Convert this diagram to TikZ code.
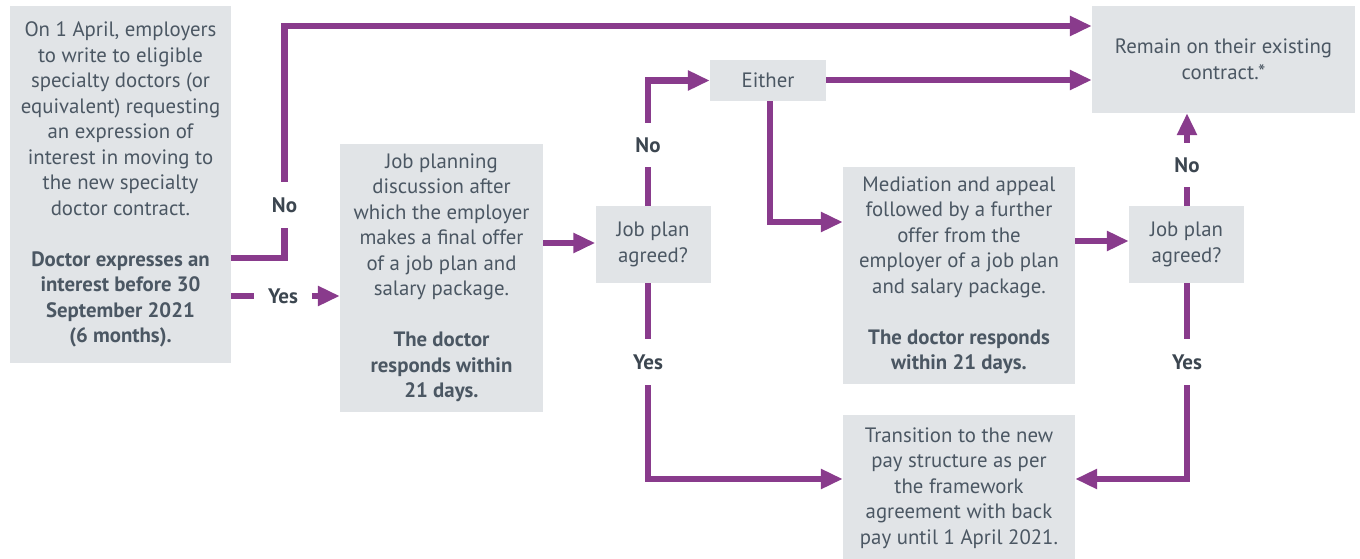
\documentclass[tikz,border=0pt]{standalone}
\usepackage{fontspec}
\setmainfont{PT Sans}
\usetikzlibrary{arrows.meta}
\definecolor{pur}{HTML}{893B8C}
\definecolor{boxg}{HTML}{E1E4E7}
\definecolor{txt}{HTML}{4B5763}
\definecolor{txtd}{HTML}{3C4650}
\begin{document}
\begin{tikzpicture}[x=1pt,y=-1pt,
  box/.style={fill=boxg, inner sep=0pt, align=center, text=txt,
    font=\fontsize{20.8}{25.5}\selectfont},
  lbl/.style={inner sep=0pt, text=txtd, font=\fontsize{21}{24}\selectfont\bfseries,
    minimum width=40pt, minimum height=44pt},
  flow/.style={draw=pur, line width=6.5pt},
  arr/.style={flow, -{Triangle[length=22pt,width=19pt]}}]
\useasboundingbox (0,0) rectangle (1360,559);
% boxes
\node[box, minimum width=221pt, minimum height=357pt] (left) at (120.5,184.5)
  {On 1 April, employers\\ to write to eligible\\ specialty doctors (or\\ equivalent) requesting\\ an expression of\\ interest in moving to\\ the new specialty\\ doctor contract.\\[25.5pt]
  \bfseries Doctor expresses an\\ \bfseries interest before 30\\ \bfseries September 2021\\ \bfseries (6 months).};
\node[box, minimum width=203pt, minimum height=268pt] (plan) at (441.5,278)
  {Job planning\\ discussion after\\ which the employer\\ makes a final offer\\ of a job plan and\\ salary package.\\[25.5pt]
  \bfseries The doctor\\ \bfseries responds within\\ \bfseries 21 days.};
\node[box, minimum width=115pt, minimum height=77pt] (jpa1) at (653,244.5) {Job plan\\ agreed?};
\node[box, minimum width=116pt, minimum height=41pt] (either) at (768,80.5) {Either};
\node[box, minimum width=263pt, minimum height=107pt] (remain) at (1223.5,59.5)
  {Remain on their existing\\ contract.*};
\node[box, minimum width=232pt, minimum height=217pt] (med) at (959,275.5)
  {Mediation and appeal\\ followed by a further\\ offer from the\\ employer of a job plan\\ and salary package.\\[25.5pt]
  \bfseries The doctor responds\\ \bfseries within 21 days.};
\node[box, minimum width=115pt, minimum height=77pt] (jpa2) at (1186.5,244.5) {Job plan\\ agreed?};
\node[box, minimum width=232pt, minimum height=146pt] (trans) at (959,488)
  {Transition to the new\\ pay structure as per\\ the framework\\ agreement with back\\ pay until 1 April 2021.};
% labels
\node[lbl, minimum height=46pt] (no1) at (284.5,205) {No};
\node[lbl, minimum width=58pt] (yes1) at (283,296) {Yes};
\node[lbl] (no2) at (648,145) {No};
\node[lbl, minimum height=46pt] (yes2) at (648,362) {Yes};
\node[lbl] (no3) at (1187,165) {No};
\node[lbl, minimum height=46pt] (yes3) at (1187,362) {Yes};
% row/column coordinates
\coordinate (r258) at (0,258);
\coordinate (r26) at (0,26);
\coordinate (r243) at (0,243);
\coordinate (r80) at (0,80);
\coordinate (c770) at (770,0);
\coordinate (r222) at (0,222);
\coordinate (r241) at (0,241);
\coordinate (r479) at (0,479);
% connectors
\draw[flow] (left.east |- r258) -| (no1.south);
\draw[arr] (no1.north) |- (remain.west |- r26);
\draw[flow] (left.east |- yes1) -- (yes1.west);
\draw[arr] (yes1.east) -- (plan.west |- yes1);
\draw[arr] (plan.east |- r243) -- (jpa1.west |- r243);
\draw[flow] (jpa1.north -| no2) -- (no2.south);
\draw[arr] (no2.north) |- (either.west);
\draw[arr] (either.east |- r80) -- (remain.west |- r80);
\draw[arr] (either.south -| c770) |- (med.west |- r222);
\draw[arr] (med.east |- r241) -- (jpa2.west |- r241);
\draw[flow] (jpa2.north -| no3) -- (no3.south);
\draw[arr] (no3.north) -- (remain.south -| no3);
\draw[flow] (jpa1.south -| yes2) -- (yes2.north);
\draw[arr] (yes2.south) |- (trans.west |- r479);
\draw[flow] (jpa2.south -| yes3) -- (yes3.north);
\draw[arr] (yes3.south) |- (trans.east |- r479);
\end{tikzpicture}
\end{document}
